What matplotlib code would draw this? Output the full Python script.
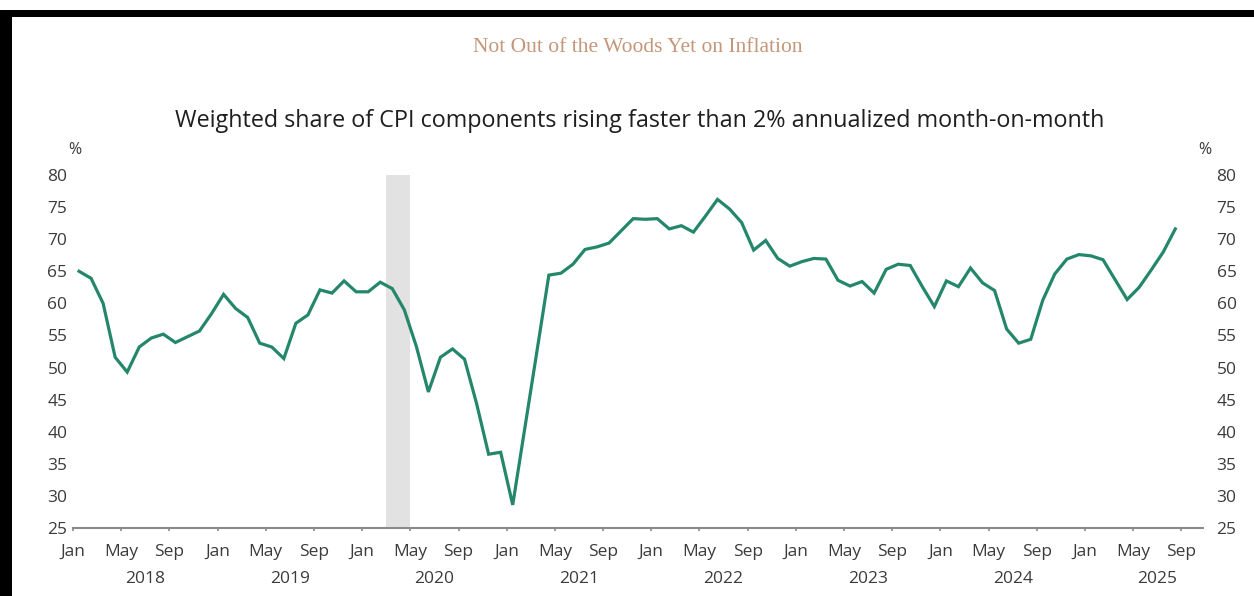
import matplotlib
matplotlib.use("Agg")
import matplotlib.pyplot as plt
from matplotlib.patches import Rectangle
from matplotlib.transforms import blended_transform_factory
import numpy as np

# Weighted share (%) of CPI components rising faster than 2% annualized m/m
share_2018 = [65.0, 63.9, 60.0, 51.6, 49.3, 53.2, 54.6, 55.2, 53.9, 54.8, 55.7, 58.4]
share_2019 = [61.4, 59.2, 57.8, 53.8, 53.2, 51.4, 56.9, 58.2, 62.1, 61.6, 63.5, 61.8]
share_2020 = [61.8, 63.3, 62.3, 59.0, 53.3, 46.2, 51.6, 52.9, 51.3, 44.4, 36.5, 36.8]
share_2021 = [28.6, 40.5, 52.4, 64.4, 64.7, 66.1, 68.4, 68.8, 69.4, 71.3, 73.2, 73.1]
share_2022 = [73.2, 71.6, 72.1, 71.1, 73.6, 76.2, 74.7, 72.6, 68.3, 69.8, 67.0, 65.8]
share_2023 = [66.5, 67.0, 66.9, 63.6, 62.7, 63.4, 61.6, 65.3, 66.1, 65.9, 62.6, 59.5]
share_2024 = [63.5, 62.6, 65.5, 63.2, 62.0, 56.0, 53.8, 54.4, 60.5, 64.6, 66.9, 67.6]
share_2025 = [67.4, 66.8, 63.7, 60.6, 62.5, 65.2, 68.0, 71.6]

years = [2018, 2019, 2020, 2021, 2022, 2023, 2024, 2025]
tick_months = ["Jan", "May", "Sep"]
y_ticks = [25, 30, 35, 40, 45, 50, 55, 60, 65, 70, 75, 80]

# Recession shading: Mar 2020 through Apr 2020 (months since Jan 2018)
recession_start = 26
recession_end = 28

title_top = "Not Out of the Woods Yet on Inflation"
title_main = "Weighted share of CPI components rising faster than 2% annualized month-on-month"

share = np.array(share_2018 + share_2019 + share_2020 + share_2021 +
                 share_2022 + share_2023 + share_2024 + share_2025)
# each monthly value sits in the middle of its month
x = np.arange(len(share)) + 0.5

SANS = ["Open Sans", "DejaVu Sans"]
TXT = "#3b3b3b"
LINE = "#24876b"

fig = plt.figure(figsize=(12.54, 5.96), dpi=100)
fig.patch.set_facecolor("white")

W, H = 1254, 596
ax = fig.add_axes([73 / W, (H - 528) / H, (1203 - 73) / W, (528 - 175) / H])

ax.axvspan(recession_start, recession_end, color="#e1e2e1", lw=0, zorder=1)
ax.plot(x, share, color=LINE, lw=2.3, solid_joinstyle="miter", zorder=3)

ax.set_xlim(0, 93.8)
ax.set_ylim(25, 80)

for side in ["top", "left", "right"]:
    ax.spines[side].set_visible(False)
ax.spines["bottom"].set_color("#8a8a8a")
ax.spines["bottom"].set_linewidth(1.5)

# month ticks every four months, longer marks at each January
n_months = 12 * (years[-1] - years[0]) + 9
major = np.arange(0, n_months, 4)
ax.set_xticks(major)
ax.set_xticklabels([tick_months[(m % 12) // 4] for m in major])
ax.set_xticks(np.arange(0, n_months, 12), minor=True)
ax.tick_params(axis="x", which="major", length=2.5, width=1.2, color="#8a8a8a",
               pad=9, labelsize=12.5, labelcolor=TXT)
ax.tick_params(axis="x", which="minor", length=5, width=1.2, color="#8a8a8a")
for lab in ax.get_xticklabels():
    lab.set_fontfamily(SANS)

ax.set_yticks(y_ticks)
ax.set_yticklabels([str(v) for v in y_ticks])
ax.tick_params(axis="y", which="both", length=0, labelsize=12.5, labelcolor=TXT,
               pad=4, left=False, right=False, labelleft=True, labelright=True)
for lab in ax.get_yticklabels():
    lab.set_fontfamily(SANS)
for t in ax.yaxis.get_major_ticks():
    t.label2.set_fontfamily(SANS)
    t.label2.set_x(1.0 + 8 / (1203 - 73))

# year labels centred under each year
trans = blended_transform_factory(ax.transData, ax.transAxes)
for i, yr in enumerate(years):
    ax.text(12 * i + 6, -51 / 353, str(yr), transform=trans, ha="center",
            va="center", fontsize=12.5, color=TXT, family=SANS)

# unit markers above both value scales
fig.text(75 / W, 1 - 150 / H, "%", ha="center", va="center", fontsize=11.5,
         color=TXT, family=SANS)
fig.text(1205 / W, 1 - 150 / H, "%", ha="center", va="center", fontsize=11.5,
         color=TXT, family=SANS)

fig.text(638 / W, 1 - 47 / H, title_top, ha="center", va="center",
         fontsize=15.5, color="#c4977a", family=["Liberation Serif", "DejaVu Serif"])
fig.text(640 / W, 1 - 121 / H, title_main, ha="center", va="center",
         fontsize=16.8, color="#1f1f1f", family=SANS)

# dark frame along the top and left edges
fig.patches.append(Rectangle((0, 1 - 17 / H), 1, 7 / H, transform=fig.transFigure,
                             facecolor="black", edgecolor="none", zorder=10))
fig.patches.append(Rectangle((0, 0), 12 / W, 1 - 10 / H, transform=fig.transFigure,
                             facecolor="black", edgecolor="none", zorder=10))

fig.savefig("out.png", dpi=100, facecolor="white")
